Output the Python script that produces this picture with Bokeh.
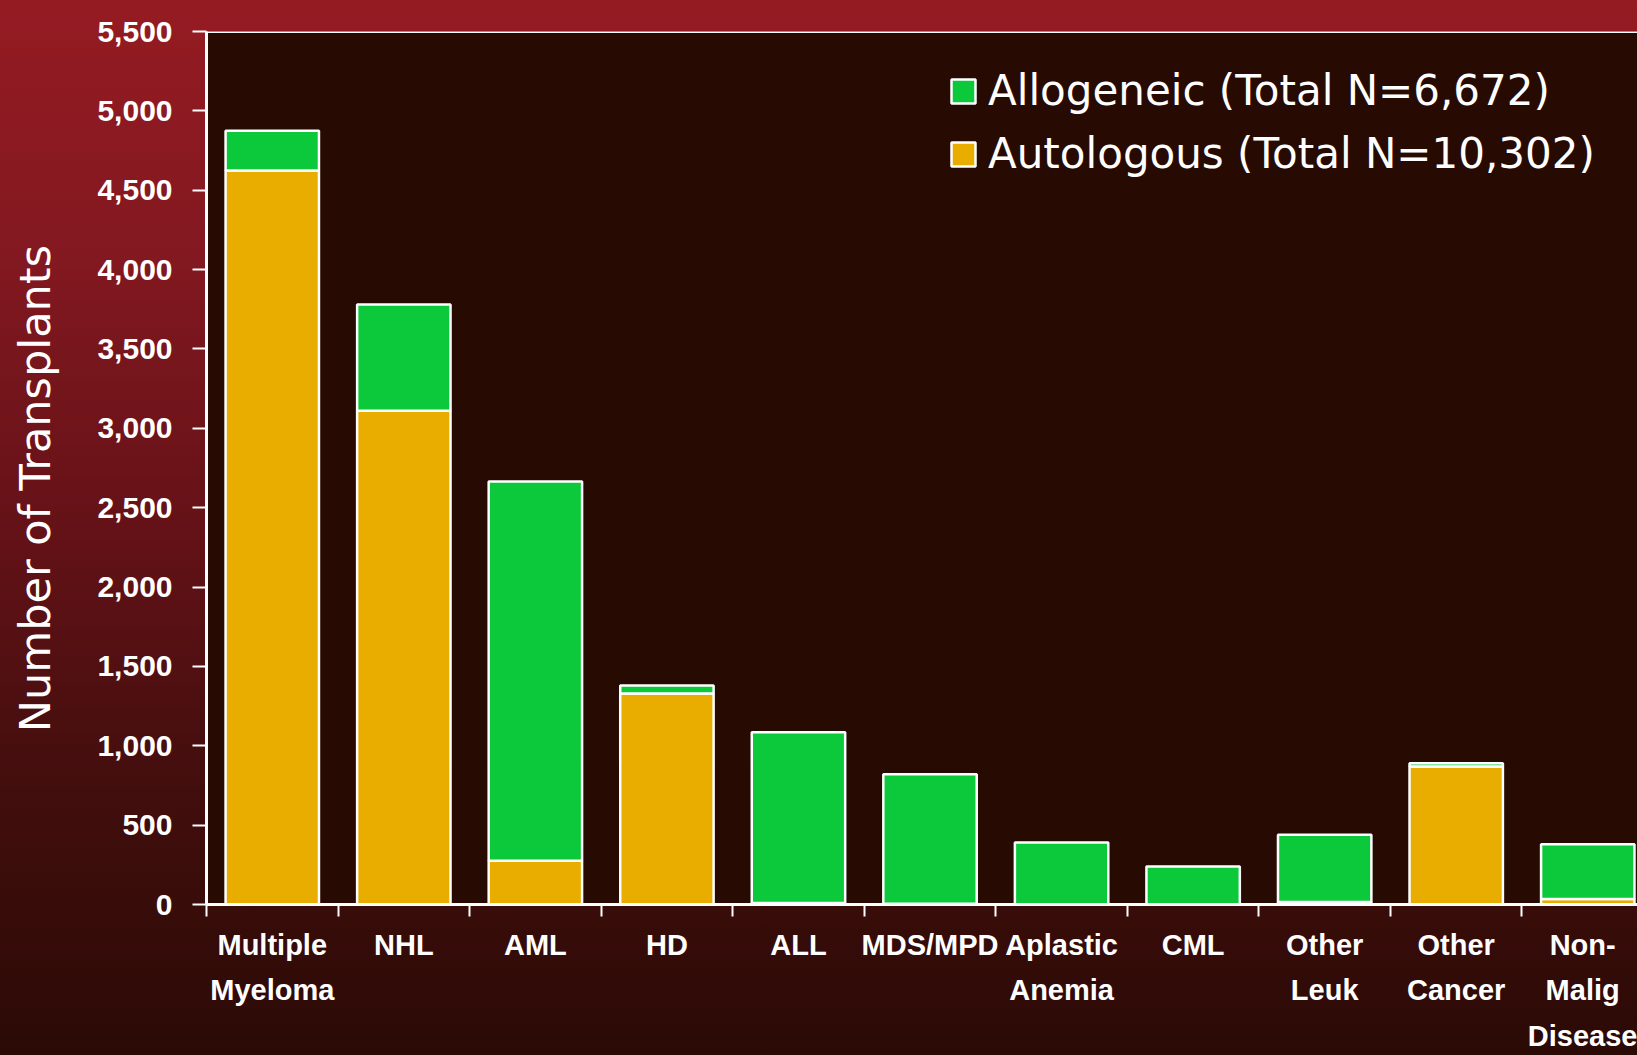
from bokeh.plotting import figure
from bokeh.models import (ColumnDataSource, Range1d, FixedTicker, NumeralTickFormatter,
                          Legend, LegendItem, Span)
from bokeh.embed import file_html
from bokeh.resources import INLINE

# ---------------- data ----------------
categories = ["Multiple Myeloma", "NHL", "AML", "HD", "ALL", "MDS/MPD",
              "Aplastic Anemia", "CML", "Other Leuk", "Other Cancer", "Non-Malig Disease"]
category_labels = ["Multiple\nMyeloma", "NHL", "AML", "HD", "ALL", "MDS/MPD",
                   "Aplastic\nAnemia", "CML", "Other\nLeuk", "Other\nCancer", "Non-\nMalig\nDisease"]
autologous = [4625, 3110, 275, 1330, 10, 5, 0, 0, 15, 870, 35]
allogeneic = [250, 670, 2390, 50, 1075, 815, 390, 240, 425, 20, 345]
series_names = ["Allogeneic (Total N=6,672)", "Autologous (Total N=10,302)"]
y_ticks = [0, 500, 1000, 1500, 2000, 2500, 3000, 3500, 4000, 4500, 5000, 5500]
y_label = "Number of Transplants"

# ---------------- styling ----------------
GREEN = "#0bc93a"
ORANGE = "#e9ad00"
PLOT_BG = "#270b02"
BOLD_FONT = "Liberation Sans"
SANS = "DejaVu Sans"

n = len(categories)
xs = [i + 0.5 for i in range(n)]
boundaries = list(range(n + 1))
source = ColumnDataSource(dict(x=xs, auto=autologous, allo=allogeneic))

W, H = 1637, 1055
p = figure(width=W, height=H, output_backend="svg", toolbar_location=None,
           x_range=Range1d(0, 10.878), y_range=Range1d(0, 5500),
           min_border_left=206, min_border_right=0, min_border_top=31, min_border_bottom=151)

p.background_fill_color = PLOT_BG
p.border_fill_color = None
p.outline_line_color = None
p.styles = {"background": "linear-gradient(180deg, #951b22 0%, #821820 25%, #641217 50%, #420e0d 75%, #2b0a05 100%)"}
p.xgrid.visible = False
p.ygrid.visible = False

rs = p.vbar_stack(["auto", "allo"], x="x", width=0.71, source=source,
                  fill_color=[ORANGE, GREEN], line_color="white", line_width=2.5)

# top frame line
p.add_layout(Span(location=5500, dimension="width", line_color="white", line_width=3))

# y axis
ya = p.yaxis[0]
ya.ticker = FixedTicker(ticks=y_ticks)
ya.formatter = NumeralTickFormatter(format="0,0")
ya.major_label_text_font = BOLD_FONT
ya.major_label_text_font_style = "bold"
ya.major_label_text_font_size = "30px"
ya.major_label_text_color = "white"
ya.axis_line_color = "white"
ya.axis_line_width = 3
ya.major_tick_line_color = "white"
ya.major_tick_line_width = 2
ya.major_tick_out = 14
ya.major_tick_in = 0
ya.minor_tick_line_color = None
ya.major_label_standoff = 20
# trailing no-break spaces nudge the centred label slightly downwards, as in the original
ya.axis_label = y_label + "\u00a0\u00a0\u00a0"
ya.axis_label_text_font = SANS
ya.axis_label_text_font_style = "normal"
ya.axis_label_text_font_size = "43px"
ya.axis_label_text_color = "white"
ya.axis_label_standoff = 34

# x axis: labels at category centres, tick marks at category boundaries
xa = p.xaxis[0]
xa.ticker = FixedTicker(ticks=xs, minor_ticks=boundaries)
xa.major_label_overrides = {x: lab for x, lab in zip(xs, category_labels)}
xa.axis_line_color = "white"
xa.axis_line_width = 3
xa.major_tick_line_color = None
xa.major_tick_out = 0
xa.major_tick_in = 0
xa.minor_tick_line_color = "white"
xa.minor_tick_line_width = 2
xa.minor_tick_out = 12
xa.minor_tick_in = 0
xa.major_label_standoff = 12
xa.major_label_text_font = BOLD_FONT
xa.major_label_text_font_style = "bold"
xa.major_label_text_font_size = "29px"
xa.major_label_text_color = "white"
xa.major_label_text_line_height = 1.43

legend = Legend(items=[LegendItem(label=series_names[0], renderers=[rs[1]]),
                       LegendItem(label=series_names[1], renderers=[rs[0]])],
                location=(742, 726), glyph_width=30, glyph_height=30, label_height=49,
                spacing=14, padding=0, margin=0, label_standoff=10,
                label_text_font=SANS, label_text_font_size="42px", label_text_color="white",
                background_fill_alpha=0, border_line_color=None)
p.add_layout(legend)

open("out.html", "w").write(file_html(p, INLINE))
